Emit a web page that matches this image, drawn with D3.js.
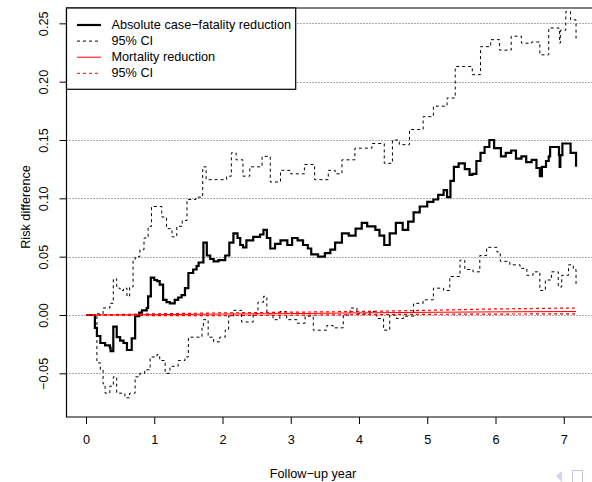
<!DOCTYPE html>
<html>
<head>
<meta charset="utf-8">
<script src="https://d3js.org/d3.v7.min.js"></script>
<style>
	html, body { margin: 0; padding: 0; background: #fff; }
	svg text { font-family: 'Liberation Sans', Arial, Helvetica, sans-serif; font-size: 12.7px; fill: #000; }
</style>
</head>
<body>
<div id="chart"></div>
<script>

	// absolute case-fatality reduction (step estimate), [year, value]
	var estimate = [[0,0],[0.13,-0.011],[0.16,-0.018],[0.21,-0.024],[0.28,-0.026],[0.35,-0.028],[0.36,-0.031],[0.40,-0.010],[0.45,-0.019],[0.50,-0.022],[0.55,-0.024],[0.60,-0.030],[0.67,-0.020],[0.72,-0.001],[0.78,0.002],[0.82,0.004],[0.89,0.006],[0.91,0.016],[0.95,0.032],[1.00,0.030],[1.04,0.029],[1.08,0.026],[1.13,0.013],[1.18,0.011],[1.23,0.010],[1.30,0.013],[1.35,0.015],[1.40,0.017],[1.45,0.023],[1.50,0.036],[1.57,0.039],[1.62,0.042],[1.65,0.045],[1.72,0.062],[1.77,0.051],[1.82,0.048],[1.87,0.046],[1.94,0.047],[2.04,0.051],[2.10,0.062],[2.16,0.070],[2.22,0.066],[2.26,0.060],[2.30,0.058],[2.35,0.064],[2.45,0.067],[2.55,0.069],[2.60,0.073],[2.65,0.066],[2.70,0.057],[2.77,0.061],[2.85,0.064],[2.95,0.060],[3.02,0.066],[3.10,0.064],[3.18,0.060],[3.25,0.057],[3.30,0.052],[3.40,0.050],[3.50,0.053],[3.58,0.056],[3.65,0.062],[3.75,0.070],[3.85,0.068],[3.95,0.074],[4.04,0.079],[4.12,0.076],[4.24,0.073],[4.30,0.068],[4.37,0.060],[4.45,0.070],[4.54,0.079],[4.64,0.073],[4.72,0.080],[4.80,0.088],[4.89,0.093],[5.00,0.097],[5.09,0.099],[5.16,0.103],[5.24,0.107],[5.29,0.101],[5.34,0.115],[5.39,0.127],[5.46,0.130],[5.55,0.125],[5.62,0.120],[5.66,0.121],[5.72,0.132],[5.78,0.139],[5.84,0.144],[5.91,0.150],[5.98,0.143],[6.08,0.136],[6.15,0.139],[6.23,0.141],[6.30,0.134],[6.38,0.136],[6.45,0.131],[6.53,0.133],[6.60,0.126],[6.65,0.119],[6.68,0.127],[6.74,0.132],[6.78,0.136],[6.80,0.144],[6.93,0.137],[6.94,0.127],[6.95,0.137],[6.98,0.147],[7.10,0.139],[7.18,0.127]];

	var estUpper = [[0,0],[0.16,0.001],[0.25,0.006],[0.35,0.010],[0.40,0.031],[0.45,0.023],[0.50,0.021],[0.55,0.023],[0.60,0.016],[0.64,0.024],[0.69,0.047],[0.72,0.050],[0.79,0.056],[0.85,0.066],[0.91,0.076],[0.96,0.093],[1.04,0.093],[1.11,0.084],[1.18,0.074],[1.26,0.067],[1.33,0.076],[1.41,0.081],[1.48,0.099],[1.61,0.101],[1.71,0.127],[1.76,0.116],[1.91,0.116],[2.06,0.119],[2.13,0.139],[2.20,0.133],[2.30,0.119],[2.40,0.127],[2.58,0.136],[2.70,0.114],[2.85,0.124],[3.00,0.121],[3.20,0.129],[3.35,0.116],[3.55,0.124],[3.65,0.121],[3.75,0.133],[3.94,0.143],[4.19,0.147],[4.37,0.130],[4.49,0.150],[4.59,0.146],[4.74,0.159],[4.94,0.170],[5.09,0.179],[5.29,0.186],[5.41,0.213],[5.54,0.213],[5.66,0.206],[5.78,0.230],[5.93,0.236],[6.06,0.227],[6.23,0.239],[6.38,0.233],[6.53,0.234],[6.65,0.223],[6.78,0.246],[6.93,0.244],[6.94,0.233],[6.95,0.244],[7.03,0.260],[7.10,0.253],[7.18,0.236]];

	var estLower = [[0,0],[0.16,-0.041],[0.21,-0.047],[0.25,-0.059],[0.28,-0.067],[0.35,-0.061],[0.40,-0.053],[0.45,-0.067],[0.57,-0.071],[0.64,-0.067],[0.72,-0.053],[0.79,-0.050],[0.86,-0.047],[0.94,-0.036],[1.04,-0.034],[1.08,-0.039],[1.16,-0.050],[1.23,-0.044],[1.35,-0.039],[1.45,-0.036],[1.50,-0.019],[1.57,-0.019],[1.70,-0.010],[1.72,-0.004],[1.79,-0.019],[1.87,-0.023],[1.96,-0.019],[2.04,-0.013],[2.09,-0.001],[2.16,0.004],[2.28,-0.006],[2.45,0.001],[2.52,0.011],[2.60,0.016],[2.65,0.001],[2.74,-0.004],[2.84,0.003],[2.94,-0.004],[3.09,-0.007],[3.21,-0.001],[3.33,-0.013],[3.53,-0.009],[3.62,-0.011],[3.77,0.000],[3.87,0.006],[3.97,0.001],[4.16,0.003],[4.26,-0.003],[4.36,-0.013],[4.45,0.000],[4.55,-0.003],[4.65,-0.001],[4.80,0.010],[4.94,0.013],[5.09,0.023],[5.24,0.021],[5.33,0.033],[5.48,0.047],[5.55,0.039],[5.67,0.037],[5.77,0.051],[5.87,0.058],[6.02,0.054],[6.07,0.046],[6.21,0.043],[6.36,0.040],[6.46,0.034],[6.55,0.037],[6.65,0.021],[6.73,0.030],[6.82,0.037],[6.92,0.024],[6.97,0.034],[7.07,0.043],[7.14,0.039],[7.18,0.024]];

	// mortality reduction and its CI
	var mortYear = [0, 1, 2, 3, 4, 5, 6, 7.18];
	var mortality = [0, 0.0003, 0.0008, 0.0012, 0.0018, 0.0023, 0.0027, 0.003];
	var mortUpper = [0, 0.001, 0.0018, 0.0024, 0.003, 0.004, 0.0052, 0.006];
	var mortLower = [0, -0.0005, -0.0005, -0.0002, 0.0003, 0.0006, 0.0008, 0.001];

	var xTicks = [0, 1, 2, 3, 4, 5, 6, 7];
	var yTicks = [-0.05, 0, 0.05, 0.10, 0.15, 0.20, 0.25];
	var legendLabels = ["Absolute case\u2212fatality reduction", "95% CI", "Mortality reduction", "95% CI"];

	var W = 592, H = 482;
	var box = {left: 66.5, top: 8, right: 610, bottom: 417};

	var svg = d3.select('#chart').append('svg')
		.attr('width', W)
		.attr('height', H);

	var x = d3.scaleLinear().domain([0, 7]).range([86, 563.75]);
	var y = d3.scaleLinear().domain([0, 0.25]).range([315, 23.33]);

	var fmt = function(d){ return d3.format('.2f')(d).replace('-', '\u2212'); };

	// dotted gridlines
	svg.append('g').selectAll('line')
		.data(yTicks)
		.enter().append('line')
		.attr('x1', box.left).attr('x2', box.right)
		.attr('y1', function(d){ return Math.round(y(d)) + 0.5; })
		.attr('y2', function(d){ return Math.round(y(d)) + 0.5; })
		.attr('stroke', '#555')
		.attr('stroke-width', 1)
		.attr('stroke-dasharray', '1,2');

	// axes
	var xAxis = d3.axisBottom(x).tickValues(xTicks).tickSize(7).tickPadding(11)
		.tickFormat(d3.format('d'));
	svg.append('g')
		.attr('transform', 'translate(0,' + box.bottom + ')')
		.call(xAxis)
		.call(function(g){ g.select('.domain').remove(); })
		.call(function(g){ g.selectAll('text').attr('font-size', null).attr('font-family', null); });

	var yAxis = d3.axisLeft(y).tickValues(yTicks).tickSize(7).tickFormat(fmt);
	var yg = svg.append('g')
		.attr('transform', 'translate(' + box.left + ',0)')
		.call(yAxis)
		.call(function(g){ g.select('.domain').remove(); });
	yg.selectAll('text')
		.attr('font-size', null).attr('font-family', null)
		.attr('x', null).attr('dy', null)
		.attr('text-anchor', 'middle')
		.attr('dominant-baseline', 'central')
		.attr('transform', 'translate(-23,0) rotate(-90)');
	svg.selectAll('.tick text').style('font-size', '12.7px');

	// plot frame
	svg.append('path')
		.attr('d', 'M' + box.right + ',' + box.top + 'H' + box.left + 'V' + box.bottom + 'H' + box.right)
		.attr('fill', 'none')
		.attr('stroke', '#000')
		.attr('stroke-width', 1.2);

	// axis titles
	svg.append('text')
		.attr('x', 313).attr('y', 474)
		.attr('text-anchor', 'middle')
		.attr('dominant-baseline', 'central')
		.text('Follow\u2212up year');

	svg.append('text')
		.attr('transform', 'translate(26,' + 207 + ') rotate(-90)')
		.attr('text-anchor', 'middle')
		.attr('dominant-baseline', 'central')
		.text('Risk difference');

	// curves
	var step = d3.line()
		.x(function(d){ return x(d[0]); })
		.y(function(d){ return y(d[1]); })
		.curve(d3.curveStepAfter);

	var plain = d3.line()
		.x(function(d){ return x(d[0]); })
		.y(function(d){ return y(d[1]); });

	function pairs(vals){
		return mortYear.map(function(t, i){ return [t, vals[i]]; });
	}

	svg.append('path').datum(estUpper)
		.attr('d', step).attr('fill', 'none')
		.attr('stroke', '#000').attr('stroke-width', 1).attr('stroke-dasharray', '3,3');
	svg.append('path').datum(estLower)
		.attr('d', step).attr('fill', 'none')
		.attr('stroke', '#000').attr('stroke-width', 1).attr('stroke-dasharray', '3,3');
	svg.append('path').datum(estimate)
		.attr('d', step).attr('fill', 'none')
		.attr('stroke', '#000').attr('stroke-width', 2.2);

	svg.append('path').datum(pairs(mortUpper))
		.attr('d', plain).attr('fill', 'none')
		.attr('stroke', '#ff0000').attr('stroke-width', 1.2).attr('stroke-dasharray', '3,3');
	svg.append('path').datum(pairs(mortLower))
		.attr('d', plain).attr('fill', 'none')
		.attr('stroke', '#ff0000').attr('stroke-width', 1.2).attr('stroke-dasharray', '3,3');
	svg.append('path').datum(pairs(mortality))
		.attr('d', plain).attr('fill', 'none')
		.attr('stroke', '#ff0000').attr('stroke-width', 1);

	// legend
	var legendStyles = [
		{color: '#000', width: 2.2, dash: null},
		{color: '#000', width: 1, dash: '3,3'},
		{color: '#ff0000', width: 1, dash: null},
		{color: '#ff0000', width: 1, dash: '3,3'}
	];

	var legend = svg.append('g');
	legend.append('rect')
		.attr('x', box.left).attr('y', box.top)
		.attr('width', 229.2).attr('height', 81.3)
		.attr('fill', '#fff')
		.attr('stroke', '#000')
		.attr('stroke-width', 1.2);

	var items = legend.selectAll('.item')
		.data(legendLabels)
		.enter().append('g')
		.attr('class', 'item')
		.attr('transform', function(d, i){ return 'translate(0,' + (25 + i * 16.1) + ')'; });

	items.append('line')
		.attr('x1', 77).attr('x2', 101)
		.attr('stroke', function(d, i){ return legendStyles[i].color; })
		.attr('stroke-width', function(d, i){ return legendStyles[i].width; })
		.attr('stroke-dasharray', function(d, i){ return legendStyles[i].dash; });

	items.append('text')
		.attr('x', 111.5)
		.attr('dominant-baseline', 'central')
		.text(function(d){ return d; });

	// faint navigation glyphs in the corner
	svg.append('path')
		.attr('d', 'M556,476L562,471V482Z')
		.attr('fill', '#d4d4ee');
	svg.append('rect')
		.attr('x', 572.5).attr('y', 470.5)
		.attr('width', 10).attr('height', 14)
		.attr('fill', 'none')
		.attr('stroke', '#c4c4e6');

</script>
</body>
</html>
